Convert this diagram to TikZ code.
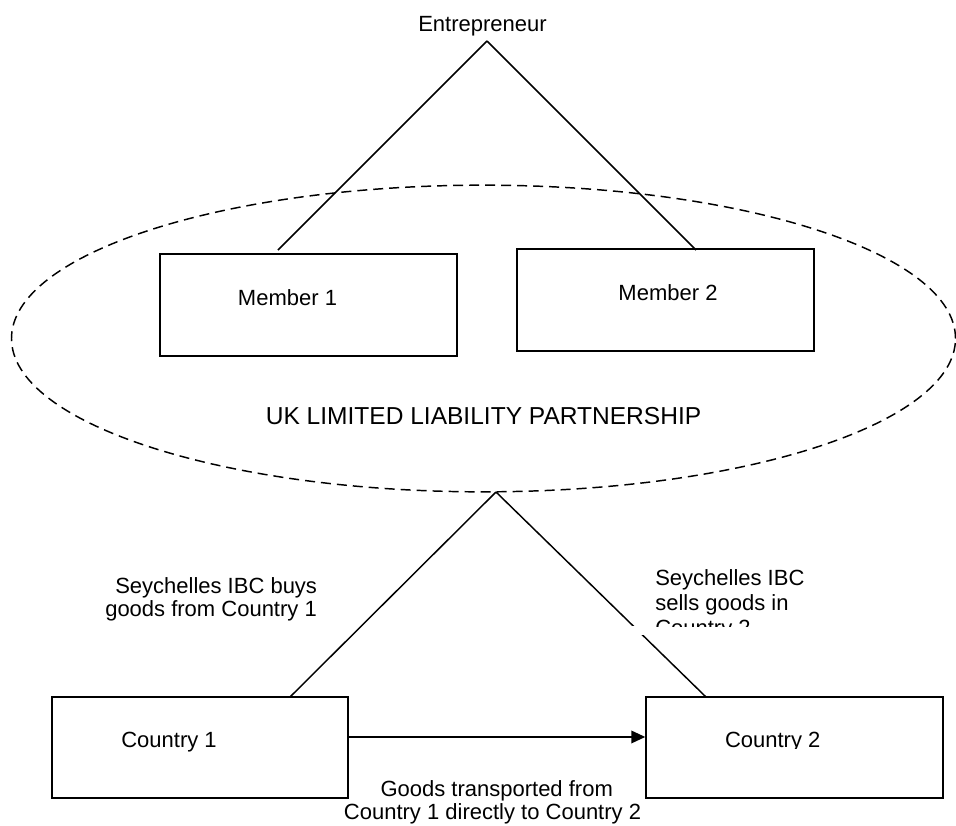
\documentclass[tikz,border=0pt]{standalone}
\usepackage{fontspec}
\setmainfont{Liberation Sans}
\usetikzlibrary{arrows.meta,shapes.geometric}
\begin{document}
\begin{tikzpicture}[x=0.75pt,y=-0.75pt,
  lw/.style={line width=1.1pt},
  boxnode/.style={draw,lw,rectangle,inner sep=0pt,minimum width=222.75pt,minimum height=76.5pt},
  txt/.style={font=\fontsize{16.5}{20}\selectfont,inner sep=0pt,anchor=base},
  txtl/.style={txt,anchor=base west},
  conn/.style={draw,lw}]
\useasboundingbox (0,0) rectangle (956,825);

% title
\node[txt] (ent) at (482.5,31.5) {Entrepreneur};
\coordinate (top) at (487,41);

% ellipse
\node[ellipse,draw,lw,dash pattern=on 7.5pt off 4.5pt,inner sep=0pt,
  minimum width=708pt,minimum height=230pt] (llp) at (483.5,338.5) {};
\node[txt,font=\fontsize{18.4}{22}\selectfont] (llptxt) at (483.5,424) {UK LIMITED LIABILITY PARTNERSHIP};

% members
\node[boxnode] (m1) at (308.5,305) {};
\node[boxnode] (m2) at (665.5,300) {};
\node[txt] (m1t) at (287.5,305) {Member 1};
\node[txt] (m2t) at (668,300) {Member 2};
\coordinate (e1) at (278,250);
\coordinate (e2) at (696,250);
\draw[conn] (top) -- (e1);
\draw[conn] (top) -- (e2);

% countries
\node[boxnode,minimum width=222pt,minimum height=75.75pt] (c1) at (200,747.5) {};
\node[boxnode,minimum width=222.75pt,minimum height=75.75pt] (c2) at (794.5,747.5) {};
\node[txt] (c1t) at (169,747.5) {Country 1};
\begin{scope}
  \clip (646,700) rectangle (943,748.5);
  \node[txt] (c2t) at (772.7,747.5) {Country 2};
\end{scope}

\coordinate (lp) at (496,492);
\coordinate (l1) at (290,697);
\coordinate (l2) at (706,697);
\draw[conn] (lp) -- (l1);
\draw[conn] (lp) -- (l2);
\fill[white] (625,626) rectangle (655,635);

% side labels
\node[txtl] (b1) at (115,593) {Seychelles IBC buys};
\node[txtl] (b2) at (105,616.7) {goods from Country 1};
\node[txtl] (s1) at (655,585) {Seychelles IBC};
\node[txtl] (s2) at (655,610) {sells goods in};
\begin{scope}
  \clip (600,612) rectangle (900,626);
  \node[txtl] (s3) at (655,635) {Country 2};
\end{scope}

% arrow
\draw[lw,-{Triangle[length=10.5pt,width=9.5pt]}] ([yshift=7.9pt]c1.east) -- ([yshift=7.9pt]c2.west);
\node[txt] (g1) at (496.7,796) {Goods transported from};
\node[txt] (g2) at (492.5,819.5) {Country 1 directly to Country 2};
\end{tikzpicture}
\end{document}
